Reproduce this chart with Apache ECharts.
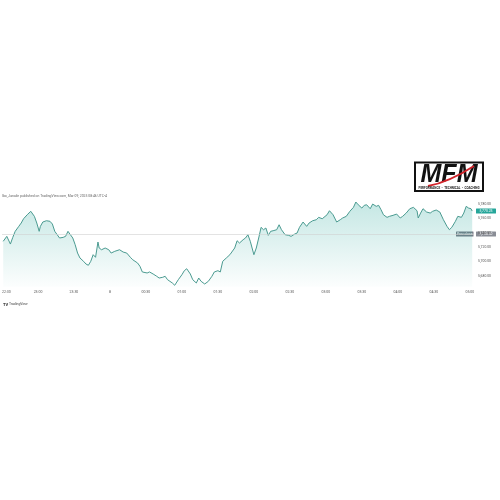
<!DOCTYPE html>
<html><head><meta charset="utf-8">
<script src="https://cdn.jsdelivr.net/npm/echarts@6/dist/echarts.min.js"></script>
<style>html,body{margin:0;padding:0;background:#fff}#c{width:500px;height:500px}</style>
</head><body><div id="c"></div><script>
// minutes elapsed since 22:30
const minutes = [1,4,5,7,9,11,14,16,18,21,22,24,25,27,29,31,32,34,37,40,42,44,46,48,51,53,55,57,59,61,63,65,68,70,72,74,76,78,80,81,83,86,89,91,94,98,101,104,107,109,113,115,117,121,123,126,129,131,134,136,138,140,142,144,147,150,152,154,157,159,162,164,166,169,172,175,177,180,182,184,187,190,191,194,196,198,201,203,205,207,210,212,214,216,218,220,222,224,226,229,231,233,236,239,241,244,246,248,251,254,256,259,262,264,267,271,273,276,279,282,284,287,290,293,295,297,300,302,304,307,309,312,314,316,318,321,323,326,329,332,334,337,340,343,346,347,349,351,354,357,359,362,365,368,371,373,375,378,380,383,385,387,389,391,392];
const prices = [5728.2,5735.1,5736.5,5724.4,5733.7,5742.1,5749.0,5753.6,5759.6,5765.1,5767.5,5769.9,5768.9,5762.9,5753.6,5742.1,5749.0,5755.0,5756.8,5756.0,5752.2,5742.1,5737.4,5732.8,5733.7,5735.1,5742.1,5737.4,5732.8,5723.5,5711.9,5705.0,5700.4,5696.7,5694.9,5700.4,5709.6,5706.0,5727.2,5718.9,5716.5,5718.9,5716.5,5711.9,5714.3,5716.5,5713.3,5711.9,5706.0,5702.6,5698.1,5693.5,5685.6,5684.2,5685.6,5682.8,5679.6,5677.2,5678.2,5679.6,5674.9,5672.6,5670.3,5667.1,5674.9,5681.8,5687.4,5690.1,5682.8,5674.9,5670.3,5677.2,5672.6,5668.9,5672.6,5679.6,5685.6,5687.4,5685.6,5700.4,5705.0,5709.6,5707.4,5718.9,5729.0,5725.8,5730.4,5732.8,5737.4,5728.2,5709.6,5718.9,5732.8,5747.6,5744.3,5746.7,5736.5,5742.1,5742.9,5744.3,5751.2,5744.3,5737.4,5736.5,5735.1,5738.3,5739.7,5747.6,5755.0,5749.0,5753.6,5756.8,5758.2,5761.5,5759.6,5765.1,5770.7,5765.1,5755.0,5758.2,5760.6,5762.9,5769.9,5775.4,5782.8,5779.0,5774.4,5778.2,5779.0,5773.5,5780.0,5776.8,5778.2,5772.1,5765.1,5761.5,5762.9,5764.3,5766.1,5760.6,5762.9,5767.5,5773.5,5775.4,5770.7,5760.6,5767.5,5773.5,5768.9,5767.5,5769.9,5771.7,5768.9,5758.2,5749.0,5744.3,5747.6,5756.0,5762.9,5761.5,5767.5,5776.8,5774.4,5773.5,5770.25];
const xTickLabels = ['22:30','23:00','23:30','8','00:30','01:00','01:30','02:00','02:30','03:00','03:30','04:00','04:30','05:00'];
const yTickValues = [5680,5700,5720,5740,5760,5780];
const prevClose = 5738.5;
const titleText = 'Ibo_Janaile published on TradingView.com, Mar 09, 2025 08:46 UTC-4';

const fmt = v => v.toLocaleString('en-US',{minimumFractionDigits:2, maximumFractionDigits:2});
const FONT = 'Roboto, "Noto Sans", sans-serif';
const chart = echarts.init(document.getElementById('c'), null, {renderer:'canvas'});
const xMax = 393.5;
chart.setOption({
  animation:false,
  backgroundColor:'#ffffff',
  grid:{left:2, right:26, top:199, bottom:213.2, containLabel:false, outerBoundsMode:'none'},
  xAxis:{type:'value', min:0, max:xMax, interval:30,
    axisLine:{show:false}, axisTick:{show:false}, splitLine:{show:false},
    axisLabel:{fontSize:3.5, color:'#555', fontFamily:FONT, margin:3, alignMinLabel:'left',
      formatter:v => (v % 30 === 0 && xTickLabels[v/30] !== undefined) ? xTickLabels[v/30] : ''}},
  yAxis:{type:'value', position:'right', min:5665, max:5787, scale:true,
    axisLine:{show:false}, axisTick:{show:false}, splitLine:{show:false},
    axisLabel:{fontSize:3.4, color:'#555', fontFamily:FONT, margin:4, customValues:yTickValues,
      formatter:v => fmt(v)}},
  series:[{type:'line', data:minutes.map((m,i)=>[m,prices[i]]), showSymbol:false, symbol:'none',
    lineStyle:{width:1, color:'#4a9a90'},
    areaStyle:{origin:'start', color:new echarts.graphic.LinearGradient(0,0,0,1,[
      {offset:0,color:'rgba(38,166,154,0.38)'},{offset:1,color:'rgba(38,166,154,0.02)'}])},
    markLine:{silent:true, symbol:'none', label:{show:false},
      lineStyle:{color:'#d0d0d0', width:0.6, type:'solid'}, data:[{yAxis:prevClose}]}
  }]
});

const right = chart.convertToPixel({xAxisIndex:0}, xMax);
const yPrev = chart.convertToPixel({yAxisIndex:0}, prevClose);
const lastPrice = prices[prices.length-1];
const yLast = chart.convertToPixel({yAxisIndex:0}, lastPrice);
const H = 5;
function box(x, y, w, fill, text){
  return [{type:'rect', shape:{x:x, y:y-H/2, width:w, height:H, r:0.5}, style:{fill:fill}},
          {type:'text', x:x+w/2, y:y, style:{text:text, fill:'#fff', fontSize:3.4, fontFamily:FONT, align:'center', verticalAlign:'middle'}}];
}
chart.setOption({graphic:[
  {type:'text', x:2, y:196.5, style:{text:titleText, fill:'#666', fontSize:3.4, fontFamily:FONT, verticalAlign:'middle'}},
  ...box(right+2, yLast, 20, '#26a69a', fmt(lastPrice)),
  ...box(right-18, yPrev, 17.5, '#787b86', 'Prev close'),
  ...box(right+2, yPrev, 20, '#8a8d96', fmt(prevClose)),
  {type:'text', x:3, y:304.5, style:{text:'{a|TV} TradingView', fill:'#444', fontSize:3.4, fontFamily:FONT, verticalAlign:'middle',
    rich:{a:{fontSize:4, fontWeight:'bold', fill:'#222', fontFamily:FONT}}}},
  // MFM logo
  {type:'rect', shape:{x:415, y:162.5, width:68, height:28.5}, style:{fill:'#fff', stroke:'#111', lineWidth:2}},
  {type:'text', x:449, y:175.5, style:{text:'MFM', fill:'#111', fontSize:25, fontWeight:900, fontStyle:'italic', fontFamily:'"Liberation Sans", Arial, sans-serif', align:'center', verticalAlign:'middle'}},
  {type:'bezierCurve', shape:{x1:428, y1:186, cpx1:445, cpy1:183, cpx2:460, cpy2:175, x2:474, y2:166}, style:{stroke:'#d2232a', lineWidth:2, fill:null}},
  {type:'text', x:449, y:188.3, style:{text:'PERFORMANCE  •  TECHNICAL  •  COACHING', fill:'#222', fontSize:3, fontWeight:'bold', fontFamily:FONT, align:'center', verticalAlign:'middle'}}
]});
</script></body></html>
